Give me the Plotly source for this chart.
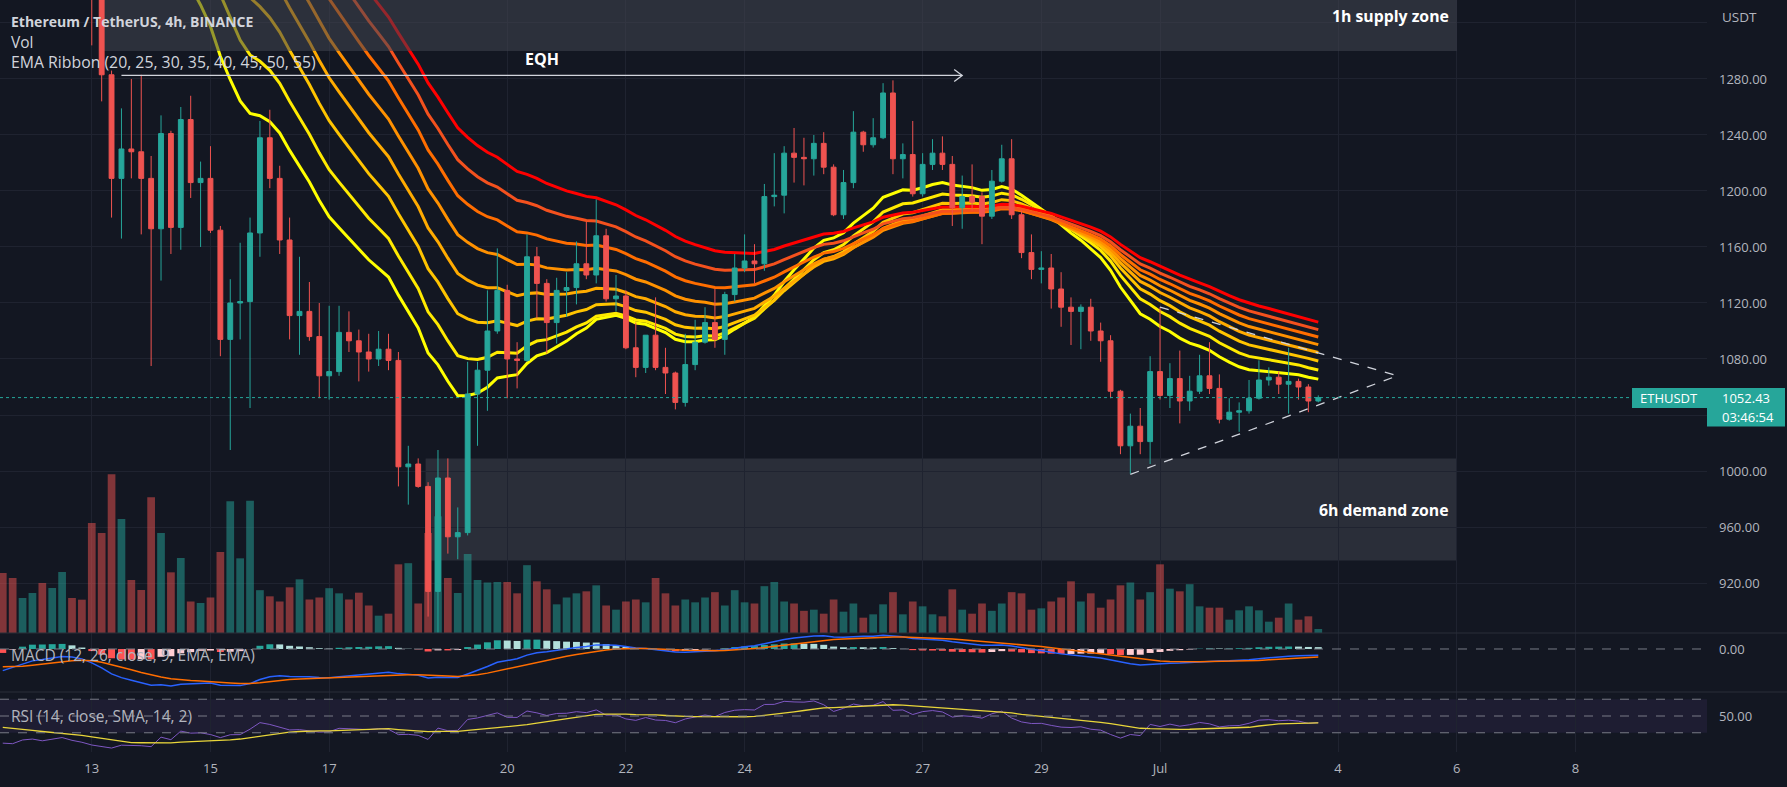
import numpy as np
import pandas as pd
import plotly.graph_objects as go

# ---------------- data (BINANCE ETHUSDT, 4h) ----------------
first_candle = "2022-06-11 12:00"
opens = [1560, 1545, 1528, 1552, 1558, 1518, 1530, 1538, 1480,
         1432, 1345, 1283, 1209, 1230, 1228, 1209, 1173, 1241, 1174,
         1251, 1206, 1209, 1172, 1094, 1120, 1121, 1170, 1238, 1209,
         1165, 1111, 1114, 1096, 1068, 1071, 1099, 1093, 1085, 1080,
         1087, 1079, 1003, 1005, 989, 914, 995, 953, 956, 1055,
         1072, 1100, 1129, 1080, 1079, 1153, 1134, 1106, 1129, 1131,
         1148, 1140, 1168, 1123, 1125, 1088, 1074, 1097, 1074, 1070,
         1049, 1076, 1092, 1106, 1094, 1126, 1145, 1150, 1148, 1196,
         1197, 1227, 1224, 1223, 1234, 1217, 1183, 1206, 1242, 1233,
         1238, 1270, 1223, 1226, 1198, 1219, 1227, 1219, 1188, 1196,
         1196, 1182, 1207, 1223, 1183, 1156, 1144, 1145, 1130, 1117,
         1114, 1117, 1100, 1093, 1057, 1018, 1032, 1021, 1071, 1054,
         1066, 1050, 1057, 1068, 1059, 1037, 1042, 1043, 1052, 1065,
         1067, 1062, 1064, 1060, 1050]
highs = [1575, 1555, 1560, 1566, 1562, 1540, 1548, 1541, 1488,
         1440, 1350, 1286, 1259, 1280, 1283, 1225, 1254, 1243, 1260,
         1268, 1221, 1232, 1175, 1137, 1163, 1181, 1250, 1258, 1218,
         1181, 1153, 1135, 1120, 1118, 1118, 1114, 1101, 1098, 1100,
         1098, 1085, 1018, 1009, 992, 1015, 1009, 974, 1078, 1078,
         1129, 1159, 1133, 1092, 1169, 1160, 1137, 1138, 1142, 1164,
         1178, 1194, 1173, 1140, 1129, 1106, 1097, 1124, 1088, 1071,
         1098, 1108, 1117, 1130, 1128, 1155, 1169, 1162, 1205, 1227,
         1232, 1245, 1238, 1240, 1242, 1219, 1215, 1257, 1243, 1252,
         1277, 1279, 1234, 1250, 1227, 1237, 1239, 1225, 1211, 1219,
         1199, 1215, 1233, 1237, 1186, 1169, 1157, 1155, 1142, 1124,
         1119, 1123, 1106, 1097, 1058, 1041, 1045, 1082, 1117, 1077,
         1086, 1068, 1083, 1092, 1069, 1052, 1049, 1065, 1079, 1074,
         1071, 1088, 1066, 1062, 1054]
lows = [1530, 1518, 1522, 1538, 1508, 1505, 1492, 1470, 1425,
        1304, 1264, 1181, 1166, 1209, 1169, 1075, 1136, 1155, 1158,
        1195, 1160, 1170, 1082, 1015, 1094, 1045, 1153, 1202, 1155,
        1094, 1083, 1093, 1052, 1051, 1068, 1085, 1064, 1071, 1075,
        1072, 989, 976, 988, 896, 881, 941, 937, 954, 1018,
        1043, 1098, 1052, 1059, 1078, 1109, 1084, 1091, 1110, 1119,
        1137, 1134, 1121, 1114, 1087, 1067, 1070, 1072, 1055, 1044,
        1046, 1072, 1091, 1088, 1083, 1121, 1142, 1134, 1143, 1189,
        1184, 1206, 1204, 1211, 1212, 1182, 1180, 1202, 1228, 1231,
        1237, 1212, 1209, 1196, 1196, 1215, 1215, 1175, 1173, 1186,
        1162, 1180, 1206, 1180, 1152, 1137, 1134, 1116, 1103, 1090,
        1087, 1093, 1078, 1052, 1012, 998, 1012, 1005, 1051, 1045,
        1034, 1043, 1055, 1055, 1034, 1036, 1028, 1041, 1051, 1061,
        1055, 1041, 1051, 1042, 1049]
closes = [1545, 1528, 1552, 1558, 1518, 1530, 1538, 1480, 1432,
          1345, 1283, 1209, 1230, 1228, 1209, 1173, 1241, 1174, 1251,
          1206, 1209, 1172, 1094, 1120, 1121, 1170, 1238, 1209, 1165,
          1111, 1114, 1096, 1068, 1071, 1099, 1093, 1085, 1080, 1087,
          1079, 1003, 1005, 989, 914, 995, 953, 956, 1055, 1072,
          1100, 1129, 1080, 1079, 1153, 1134, 1106, 1129, 1131, 1148,
          1140, 1168, 1123, 1125, 1088, 1074, 1097, 1074, 1070, 1049,
          1076, 1092, 1106, 1094, 1126, 1145, 1150, 1148, 1196, 1197,
          1227, 1224, 1223, 1234, 1217, 1183, 1206, 1242, 1233, 1238,
          1270, 1223, 1226, 1198, 1219, 1227, 1219, 1188, 1196, 1192,
          1182, 1207, 1223, 1183, 1156, 1144, 1145, 1130, 1117, 1114,
          1117, 1100, 1093, 1057, 1018, 1032, 1021, 1071, 1054, 1066,
          1050, 1057, 1068, 1059, 1037, 1042, 1043, 1052, 1065, 1067,
          1062, 1064, 1060, 1050, 1052.43]
volumes_k = [360, 330, 210, 240, 300, 270, 366, 210, 200,
             660, 600, 952, 684, 318, 258, 814, 600, 364, 450,
             189, 180, 213, 486, 790, 448, 794, 257, 220, 189,
             274, 322, 201, 213, 269, 238, 201, 242, 165, 104,
             116, 412, 419, 177, 600, 700, 330, 240, 474, 318,
             303, 306, 306, 238, 407, 310, 262, 172, 213, 238,
             250, 286, 165, 140, 189, 201, 184, 330, 238, 165,
             201, 184, 213, 245, 165, 257, 184, 177, 281, 306,
             189, 177, 133, 140, 116, 201, 128, 177, 92, 112,
             172, 245, 112, 189, 160, 112, 100, 262, 140, 116,
             177, 133, 177, 245, 238, 140, 148, 189, 213, 310,
             189, 238, 152, 201, 286, 303, 201, 245, 412, 266,
             250, 293, 160, 152, 152, 80, 136, 160, 136, 68,
             92, 177, 80, 100, 24]

ema_lengths = [20, 25, 30, 35, 40, 45, 50, 55]
ema_colors = ["#ffff00", "#ffea00", "#ffc400", "#ffab00",
              "#ff9100", "#ff6d00", "#f4511e", "#ff0000"]
# value of each EMA at one candle (index counted from first_candle)
ema_anchor_candle = [29, 51, 51, 51, 51, 51, 51, 51]
ema_anchor_value = [1229, 1084.5, 1105.6, 1128, 1151, 1175, 1198, 1219]

macd_anchor_candle = [0, 17]
macd_anchor_value = [-55, -94]
macd_signal_start = -45
rsi_avg_gain_start = 6.0
rsi_avg_loss_start = 28.0
rsi_ma_prior = 38.0

supply_zone = ("2022-06-13 03:00", "2022-07-06 00:00", 1300, 1350)
demand_zone = ("2022-06-18 15:00", "2022-07-06 00:00", 936, 1009)
eqh_line = ("2022-06-13 12:00", "2022-06-27 16:00", 1282.5)
tri_upper_start = ("2022-07-01 00:00", 1117)
tri_lower_start = ("2022-06-30 12:00", 997.6)
tri_apex = ("2022-07-05 00:00", 1068)

x_range = ["2022-06-11 10:53", "2022-07-10 05:12"]
tick_dates = ["2022-06-13", "2022-06-15", "2022-06-17", "2022-06-20", "2022-06-22",
              "2022-06-24", "2022-06-27", "2022-06-29", "2022-07-01", "2022-07-04",
              "2022-07-06", "2022-07-08"]
tick_text = ["13", "15", "17", "20", "22", "24", "27", "29", "Jul", "4", "6", "8"]
price_ticks = [920, 960, 1000, 1040, 1080, 1120, 1160, 1200, 1240, 1280, 1320]
price_hidden = [1040, 1320]
price_range = [884.3, 1336.4]
macd_range = [-109.2, 40.6]
rsi_range = [7.1, 78.6]
countdown = "03:46:54"

# ---------------- indicators ----------------
closes_a = np.array(closes, dtype=float)
times = pd.date_range(first_candle, periods=len(closes), freq="4h")
N = len(closes)


def ema_through(vals, n, k, v):
    a = 2.0 / (n + 1)
    e = np.empty(len(vals))
    e[k] = v
    for j in range(k + 1, len(vals)):
        e[j] = e[j - 1] + a * (vals[j] - e[j - 1])
    for j in range(k - 1, -1, -1):
        e[j] = (e[j + 1] - a * vals[j + 1]) / (1 - a)
    return e


def ema_seeded(vals, n, s):
    a = 2.0 / (n + 1)
    e = np.empty(len(vals))
    e[0] = s
    for j in range(1, len(vals)):
        e[j] = e[j - 1] + a * (vals[j] - e[j - 1])
    return e


emas = [ema_through(closes_a, n, k, v)
        for n, k, v in zip(ema_lengths, ema_anchor_candle, ema_anchor_value)]

g12 = ema_seeded(closes_a, 12, 0.0)
g26 = ema_seeded(closes_a, 26, 0.0)
d12, d26 = 1 - 2 / 13, 1 - 2 / 27
k0, k1 = macd_anchor_candle
A = np.array([[d12 ** k0, -d26 ** k0], [d12 ** k1, -d26 ** k1]])
b = np.array([macd_anchor_value[0] - (g12[k0] - g26[k0]),
              macd_anchor_value[1] - (g12[k1] - g26[k1])])
s12, s26 = np.linalg.solve(A, b)
idx = np.arange(N)
macd = (d12 ** idx) * s12 + g12 - ((d26 ** idx) * s26 + g26)
signal = ema_seeded(macd, 9, macd_signal_start)
hist = macd - signal
hist_colors = []
for j in range(N):
    prev = hist[j - 1] if j > 0 else hist[j]
    if hist[j] >= 0:
        hist_colors.append("#26a69a" if hist[j] >= prev else "#b2dfdb")
    else:
        hist_colors.append("#ffcdd2" if hist[j] > prev else "#ff5252")

ag, al = rsi_avg_gain_start, rsi_avg_loss_start
rsi = [100 - 100 / (1 + ag / al)]
for j in range(1, N):
    ch = closes_a[j] - closes_a[j - 1]
    ag = (ag * 13 + max(ch, 0)) / 14
    al = (al * 13 + max(-ch, 0)) / 14
    rsi.append(100 - 100 / (1 + ag / al))
rsi = np.array(rsi)
padded = np.concatenate([np.full(13, rsi_ma_prior), rsi])
rsi_ma = np.array([padded[j:j + 14].mean() for j in range(N)])

vol_colors = ["rgba(38,166,154,0.5)" if c >= o else "rgba(239,83,80,0.5)"
              for o, c in zip(opens, closes)]

# ---------------- layout geometry (pixels of the 1787x787 page) ----------------
W, H = 1787, 787
PLOT_R, PLOT_B = 1707, 752
MAIN_B, MACD_B = 633, 692


def py(y):
    return (PLOT_B - y) / PLOT_B


def px(x):
    return x / PLOT_R


BG = "#131722"
GRID = "#1f2330"
TXT = "#b2b5be"
FONT = "Open Sans"
bar_w = 0.78 * 4 * 3600 * 1000

fig = go.Figure()
fig.add_trace(go.Bar(x=times, y=volumes_k, marker=dict(color=vol_colors, line=dict(width=0)),
                     width=bar_w, xaxis="x", yaxis="y", hoverinfo="skip"))
for e, c in zip(emas, ema_colors):
    fig.add_trace(go.Scatter(x=times, y=e, mode="lines", line=dict(color=c, width=3),
                             xaxis="x", yaxis="y2", hoverinfo="skip"))
sz = supply_zone
fig.add_trace(go.Scatter(x=[sz[0], sz[1], sz[1], sz[0], sz[0]],
                         y=[sz[2], sz[2], sz[3], sz[3], sz[2]],
                         fill="toself", fillcolor="rgba(65,69,80,0.55)", mode="lines",
                         line=dict(width=0), xaxis="x", yaxis="y2", hoverinfo="skip"))
fig.add_trace(go.Candlestick(x=times, open=opens, high=highs, low=lows, close=closes,
                             increasing=dict(line=dict(color="#26a69a", width=1), fillcolor="#26a69a"),
                             decreasing=dict(line=dict(color="#ef5350", width=1), fillcolor="#ef5350"),
                             whiskerwidth=0, xaxis="x", yaxis="y5", hoverinfo="skip"))

fig.add_trace(go.Bar(x=times, y=hist, marker=dict(color=hist_colors, line=dict(width=0)),
                     width=bar_w * 0.9, xaxis="x2", yaxis="y3", hoverinfo="skip"))
fig.add_trace(go.Scatter(x=times, y=macd, mode="lines", line=dict(color="#2962ff", width=1.5),
                         xaxis="x2", yaxis="y3", hoverinfo="skip"))
fig.add_trace(go.Scatter(x=times, y=signal, mode="lines", line=dict(color="#ff6d00", width=1.5),
                         xaxis="x2", yaxis="y3", hoverinfo="skip"))
fig.add_trace(go.Scatter(x=times, y=rsi, mode="lines", line=dict(color="#7e57c2", width=1),
                         xaxis="x3", yaxis="y4", hoverinfo="skip"))
fig.add_trace(go.Scatter(x=times, y=rsi_ma, mode="lines", line=dict(color="#e8d53a", width=1.3),
                         xaxis="x3", yaxis="y4", hoverinfo="skip"))

dom_main = [py(MAIN_B), 1]
dom_macd = [py(MACD_B), py(MAIN_B)]
dom_rsi = [0, py(MACD_B)]

xcommon = dict(range=x_range, type="date", showgrid=True, gridcolor=GRID, gridwidth=1,
               tickvals=tick_dates, ticktext=tick_text, zeroline=False, showline=False,
               rangeslider=dict(visible=False), fixedrange=True, automargin=False)
ycommon = dict(side="right", showgrid=False, zeroline=False, showline=False, ticks="",
               tickfont=dict(family=FONT, size=13, color=TXT), ticklabelstandoff=11,
               automargin=False)

fig.update_layout(
    width=W, height=H, autosize=False,
    margin=dict(l=0, r=W - PLOT_R, t=0, b=H - PLOT_B, autoexpand=False),
    paper_bgcolor=BG, plot_bgcolor=BG, showlegend=False, hovermode=False,
    boxgap=0.3,
    xaxis=dict(**xcommon, anchor="y", showticklabels=False),
    xaxis2=dict(**xcommon, anchor="y3", matches="x", showticklabels=False),
    xaxis3=dict(**xcommon, anchor="y4", matches="x", showticklabels=True,
                tickfont=dict(family=FONT, size=13, color=TXT), ticklabelstandoff=7),
    yaxis=dict(domain=dom_main, range=[0, 3798], visible=False, fixedrange=True),
    yaxis2=dict(**{k: v for k, v in ycommon.items() if k != "showgrid"}, overlaying="y",
                range=price_range, showgrid=True, gridcolor=GRID,
                tickvals=price_ticks,
                ticktext=["" if p in price_hidden else "%.2f" % p for p in price_ticks]),
    yaxis5=dict(overlaying="y", range=price_range, visible=False),
    yaxis3=dict(**ycommon, domain=dom_macd, anchor="x2", range=macd_range,
                tickvals=[0], ticktext=["0.00"]),
    yaxis4=dict(**ycommon, domain=dom_rsi, anchor="x3", range=rsi_range,
                tickvals=[50], ticktext=["50.00"]),
)

shapes = []
dz = demand_zone
shapes.append(dict(type="rect", xref="x", yref="y2", x0=dz[0], x1=dz[1], y0=dz[2], y1=dz[3],
                   fillcolor="rgba(65,69,80,0.5)", line=dict(width=0), layer="below"))
shapes.append(dict(type="rect", xref="x3 domain", yref="y4", x0=0, x1=1, y0=30, y1=70,
                   fillcolor="rgba(126,87,194,0.1)", line=dict(width=0), layer="below"))
for lv in (70, 50, 30):
    shapes.append(dict(type="line", xref="x3 domain", yref="y4", x0=0, x1=1, y0=lv, y1=lv,
                       line=dict(color="#787b86", width=1, dash="dash")))
shapes.append(dict(type="line", xref="x2 domain", yref="y3", x0=0, x1=1, y0=0, y1=0,
                   line=dict(color="#787b86", width=1, dash="dash")))
for yb in (MAIN_B, MACD_B):
    shapes.append(dict(type="line", xref="paper", yref="paper", x0=0, x1=W / PLOT_R,
                       y0=py(yb), y1=py(yb), line=dict(color="#2a2e39", width=1)))
# EQH arrow
shapes.append(dict(type="line", xref="x", yref="y2", x0=eqh_line[0], x1=eqh_line[1],
                   y0=eqh_line[2], y1=eqh_line[2], line=dict(color="#d1d4dc", width=1.3)))
shapes.append(dict(type="path", xref="x", yref="y2", xsizemode="pixel", ysizemode="pixel",
                   xanchor=eqh_line[1], yanchor=eqh_line[2], path="M -8,-6 L 0,0 L -8,6",
                   line=dict(color="#d1d4dc", width=1.3)))
# triangle
for st in (tri_upper_start, tri_lower_start):
    shapes.append(dict(type="line", xref="x", yref="y2", x0=st[0], y0=st[1],
                       x1=tri_apex[0], y1=tri_apex[1],
                       line=dict(color="#d1d4dc", width=1.3, dash="dash")))
# last price line
last = closes[-1]
shapes.append(dict(type="line", xref="paper", yref="y2", x0=0, x1=px(1632), y0=last, y1=last,
                   line=dict(color="#26a69a", width=1, dash="dot")))
shapes.append(dict(type="rect", xref="paper", yref="y2", ysizemode="pixel", yanchor=last,
                   x0=px(1632), x1=px(1785), y0=-10.5, y1=9.5,
                   fillcolor="#26a69a", line=dict(width=0), layer="above"))
shapes.append(dict(type="rect", xref="paper", yref="y2", ysizemode="pixel", yanchor=last,
                   x0=px(1707), x1=px(1785), y0=-29, y1=-10,
                   fillcolor="#26a69a", line=dict(width=0), layer="above"))
fig.update_layout(shapes=shapes)

ann = []


def text(x, y, s, size=14, color="#d1d4dc", xanchor="left", xref="paper", yref="paper", **kw):
    ann.append(dict(x=x, y=y, xref=xref, yref=yref, text=s, showarrow=False, xanchor=xanchor,
                    yanchor="middle", font=dict(family=FONT, size=size, color=color), **kw))


text(px(9), py(21), "<b>Ethereum / TetherUS, 4h, BINANCE</b>", size=14)
text(px(9), py(42), "Vol", size=15.5)
text(px(9), py(62), "EMA Ribbon (20, 25, 30, 35, 40, 45, 50, 55)", size=15.8)
text(px(9), py(655), "MACD (12, 26, close, 9, EMA, EMA)", size=15.5, color=TXT)
text(px(9), py(716), "RSI (14, close, SMA, 14, 2)", size=15.5, color=TXT)
text(px(1720), py(17), "USDT", size=13.5, color=TXT)
t0, t1 = pd.Timestamp(eqh_line[0]), pd.Timestamp(eqh_line[1])
text(t0 + (t1 - t0) / 2, eqh_line[2], "<b>EQH</b>", size=16, color="#ffffff",
     xanchor="center", xref="x", yref="y2", yshift=16)
text(supply_zone[1], (supply_zone[2] + supply_zone[3]) / 2, "<b>1h supply zone</b>", size=15.8,
     color="#ffffff", xanchor="right", xref="x", yref="y2", xshift=-6)
text(demand_zone[1], (demand_zone[2] + demand_zone[3]) / 2, "<b>6h demand zone</b>", size=15.8,
     color="#ffffff", xanchor="right", xref="x", yref="y2", xshift=-6)
text(px(1638), last, "ETHUSDT", size=13, color="#ffffff", yref="y2")
text(px(1720), last, "%.2f" % last, size=13, color="#ffffff", yref="y2")
text(px(1720), last, countdown, size=13, color="#ffffff", yref="y2", yshift=-19)
fig.update_layout(annotations=ann)

fig.write_html("out.html", config={"displayModeBar": False, "staticPlot": True},
               post_script=(
                   "document.body.style.margin='0';document.body.style.padding='0';"
                   "document.body.style.background='%s';document.body.style.overflow='hidden';" % BG))
